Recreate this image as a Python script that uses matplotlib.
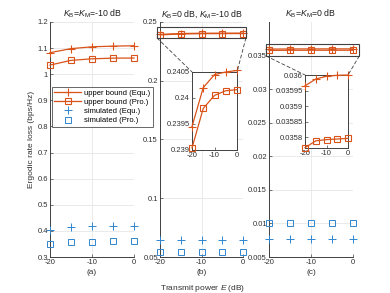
import numpy as np
import matplotlib
matplotlib.use("Agg")
import matplotlib.pyplot as plt
from matplotlib.lines import Line2D
from matplotlib.patches import Rectangle, ConnectionPatch
from matplotlib.ticker import FuncFormatter

plt.rcParams['font.family'] = ['Liberation Sans', 'DejaVu Sans']
plt.rcParams['mathtext.fontset'] = 'custom'
plt.rcParams['mathtext.rm'] = 'Liberation Sans'
plt.rcParams['mathtext.it'] = 'Liberation Sans:italic'
plt.rcParams['axes.unicode_minus'] = False

power = [-20, -15, -10, -5, 0]

# (a) K_B = K_M = -10 dB
a_ub_equ = [1.0825, 1.098, 1.105, 1.1076, 1.109]
a_ub_pro = [1.035, 1.053, 1.059, 1.0616, 1.062]
a_sim_equ = [0.405, 0.413, 0.418, 0.419, 0.420]
a_sim_pro = [0.351, 0.357, 0.359, 0.360, 0.360]

# (b) K_B = 0 dB, K_M = -10 dB
b_ub_equ = [0.23945, 0.2402, 0.24045, 0.2405, 0.24053]
b_ub_pro = [0.23904, 0.2398, 0.24005, 0.24014, 0.24016]
b_sim_equ = [0.0645, 0.0645, 0.0645, 0.0645, 0.0645]
b_sim_pro = [0.0545, 0.0545, 0.0545, 0.0545, 0.0545]

# (c) K_B = K_M = 0 dB
c_ub_equ = [0.035965, 0.035987, 0.035996, 0.035999, 0.036]
c_ub_pro = [0.035766, 0.035788, 0.035792, 0.035794, 0.035796]
c_sim_equ = [0.00768, 0.00768, 0.00768, 0.00768, 0.00768]
c_sim_pro = [0.0101, 0.0101, 0.0101, 0.0101, 0.0101]

orange = '#D95319'
blue = '#2F86CF'
grey = '#404040'
fs = 5.5

fig = plt.figure(figsize=(3.9, 2.93), dpi=100)

def fmt(v, pos):
    return '%g' % v

def style(ax, full_box=False):
    for s in ['top', 'right']:
        ax.spines[s].set_visible(full_box)
    for s in ax.spines.values():
        s.set_color(grey)
        s.set_linewidth(0.7)
    ax.tick_params(direction='in', length=2, width=0.5, labelsize=fs,
                   colors=grey, pad=1.5, labelcolor='#303030')
    ax.yaxis.set_major_formatter(FuncFormatter(fmt))

def draw(ax, ue, up, se, sp, ms_plus=6, ms_sq=4.3):
    ax.plot(power, ue, color=orange, lw=0.9, marker='+', ms=ms_plus, mew=0.8, clip_on=False, zorder=3)
    ax.plot(power, up, color=orange, lw=0.9, marker='s', ms=ms_sq, mfc='none', mew=0.8, clip_on=False, zorder=3)
    if se is not None:
        ax.plot(power, se, ls='none', color=blue, marker='+', ms=ms_plus, mew=0.7, clip_on=False, zorder=3)
        ax.plot(power, sp, ls='none', color=blue, marker='s', ms=ms_sq, mfc='none', mew=0.7, clip_on=False, zorder=3)

bot = 1 - 257 / 293
hgt = 235 / 293
ax_a = fig.add_axes([50 / 390, bot, 84 / 390, hgt])
ax_b = fig.add_axes([160 / 390, bot, 83 / 390, hgt])
ax_c = fig.add_axes([269 / 390, bot, 84 / 390, hgt])

for ax, ue, up, se, sp, ylim, yt, lab, ttl in [
        (ax_a, a_ub_equ, a_ub_pro, a_sim_equ, a_sim_pro, (0.3, 1.2), np.arange(0.3, 1.21, 0.1), '(a)',
         r'$K_{\rm B}$=$K_{\rm M}$=-10 dB'),
        (ax_b, b_ub_equ, b_ub_pro, b_sim_equ, b_sim_pro, (0.05, 0.25), np.arange(0.05, 0.251, 0.05), '(b)',
         r'$K_{\rm B}$=0 dB, $K_{\rm M}$=-10 dB'),
        (ax_c, c_ub_equ, c_ub_pro, c_sim_equ, c_sim_pro, (0.005, 0.04), np.arange(0.005, 0.0351, 0.005), '(c)',
         r'$K_{\rm B}$=$K_{\rm M}$=0 dB')]:
    style(ax)
    ax.grid(True, color='#e6e6e6', lw=0.6)
    ax.set_axisbelow(True)
    draw(ax, ue, up, se, sp)
    ax.set_xlim(-20, 0)
    ax.set_ylim(*ylim)
    ax.set_xticks([-20, -10, 0])
    ax.set_yticks(np.round(yt, 4))
    ax.set_xlabel(lab, fontsize=fs + 0.5, color='#303030', labelpad=2)
    ax.set_title(ttl, fontsize=6.3, color='#202020', pad=4)

ax_a.set_ylabel('Ergodic rate loss (bps/Hz)', fontsize=fs + 0.5, color='#303030', labelpad=2)
fig.text(203 / 390, 1 - 288 / 293, 'Transmit power $E$ (dB)', ha='center', va='center',
         fontsize=fs + 0.5, color='#303030')

# legend
handles = [
    Line2D([], [], color=orange, lw=0.9, marker='+', ms=6, mew=0.8),
    Line2D([], [], color=orange, lw=0.9, marker='s', ms=4.3, mfc='none', mew=0.8),
    Line2D([], [], ls='none', color=blue, marker='+', ms=6, mew=0.7),
    Line2D([], [], ls='none', color=blue, marker='s', ms=4.3, mfc='none', mew=0.7),
]
labels = ['upper bound (Equ.)', 'upper bound (Pro.)', 'simulated (Equ.)', 'simulated (Pro.)']
leg = fig.legend(handles, labels, loc='upper left', bbox_to_anchor=(52 / 390, 1 - 87 / 293),
                 fontsize=fs, frameon=True, fancybox=False, handlelength=3.5, handletextpad=0.4,
                 borderpad=0.3, labelspacing=0.25, borderaxespad=0)
leg.get_frame().set_edgecolor(grey)
leg.get_frame().set_linewidth(0.7)

# insets
ins_b = fig.add_axes([192 / 390, 1 - 150 / 293, 45 / 390, 78 / 293])
style(ins_b, full_box=True)
draw(ins_b, b_ub_equ, b_ub_pro, None, None, ms_plus=5.5, ms_sq=4)
ins_b.set_xlim(-20, 0)
ins_b.set_ylim(0.239, 0.2405)
ins_b.set_xticks([-20, -10, 0])
ins_b.set_yticks([0.239, 0.2395, 0.24, 0.2405])

ins_c = fig.add_axes([305 / 390, 1 - 148 / 293, 43 / 390, 73 / 293])
style(ins_c, full_box=True)
draw(ins_c, c_ub_equ, c_ub_pro, None, None, ms_plus=5.5, ms_sq=4)
ins_c.set_xlim(-20, 0)
ins_c.set_ylim(0.035765, 0.036)
ins_c.set_xticks([-20, -10, 0])
ins_c.set_yticks([0.0358, 0.03585, 0.0359, 0.03595, 0.036])

# zoom boxes and connectors
for ax, ins, (x0, x1, y0, y1) in [(ax_b, ins_b, (-20.7, 0.7, 0.2364, 0.2457)),
                                  (ax_c, ins_c, (-20.7, 1.5, 0.03494, 0.03672))]:
    ax.add_patch(Rectangle((x0, y0), x1 - x0, y1 - y0, fill=False, ec=grey, lw=0.8,
                           clip_on=False, zorder=4))
    for xa, xb in [(x0, 0), (x1, 1)]:
        cp = ConnectionPatch(xyA=(xa, y0), coordsA=ax.transData, xyB=(xb, 1), coordsB=ins.transAxes,
                             ls=(0, (4, 3)), color=grey, lw=0.6)
        fig.add_artist(cp)

fig.savefig('out.png', dpi=100)
